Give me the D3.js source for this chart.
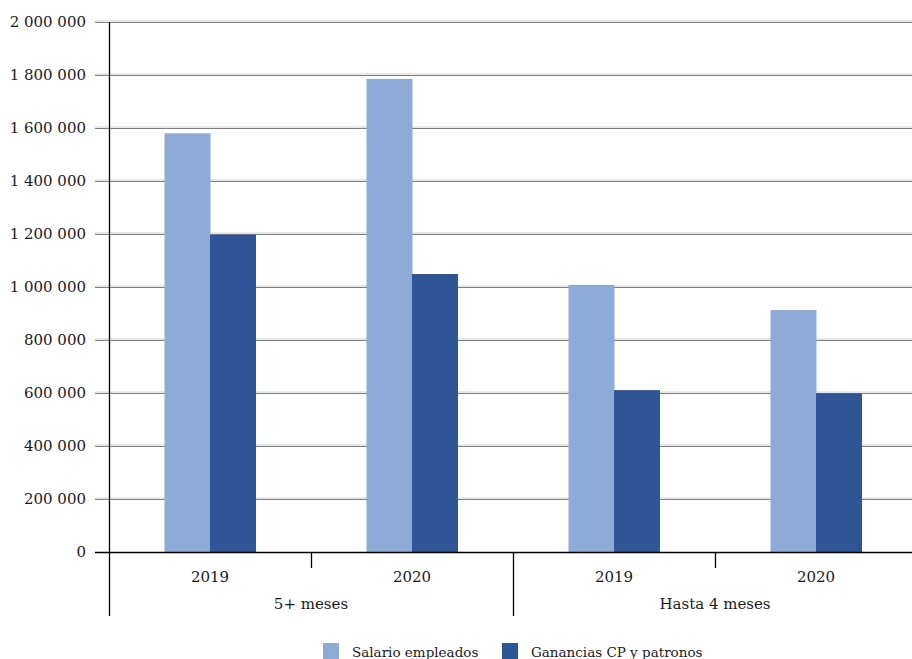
<!DOCTYPE html>
<html><head><meta charset="utf-8">
<script src="https://cdn.jsdelivr.net/npm/d3@7"></script>
<style>body{margin:0;background:#fff}svg{display:block}text{font-family:"DejaVu Serif",serif;fill:#1a1a1a}</style>
</head><body>
<svg id="c" width="912" height="659"></svg>
<script>
const groups = ["5+ meses", "Hasta 4 meses"];
const years = ["2019", "2020"];
const seriesNames = ["Salario empleados", "Ganancias CP y patronos"];
const salario = [1580000, 1785000, 1008000, 913000];
const ganancias = [1197000, 1049000, 611000, 599000];
const yTicks = [0, 200000, 400000, 600000, 800000, 1000000, 1200000, 1400000, 1600000, 1800000, 2000000];
const colors = ["#8eabd8", "#2f5597"];

const svg = d3.select("#c");
const L = 109, R = 917, T = 22, B = 552;
const y = d3.scaleLinear().domain([0, 2000000]).range([B, T]);
const xg = d3.scaleBand().domain(groups).range([L, R]);
const xy = d3.scaleBand().domain(years).range([0, xg.bandwidth()]);
const xs = d3.scaleBand().domain(seriesNames).range([0, xy.bandwidth()]).paddingInner(0).paddingOuter(1.22);
const fmt = v => d3.format(",")(v).replace(/,/g, " ");

// gridlines
const g = svg.append("g");
yTicks.forEach(t => {
  if (t === 0) return;
  g.append("line").attr("x1", 95).attr("x2", 912).attr("y1", y(t) - 1).attr("y2", y(t) - 1).attr("stroke", "#d0d0d0").attr("stroke-width", 1);
  g.append("line").attr("x1", 95).attr("x2", 912).attr("y1", y(t) + 0.5).attr("y2", y(t) + 0.5).attr("stroke", "#7f7f7f").attr("stroke-width", 1);
});
// y labels
svg.append("g").selectAll("text").data(yTicks).join("text")
  .attr("x", 86).attr("y", d => y(d)).attr("dy", "0.35em").attr("text-anchor", "end")
  .style("font-size", "15px").text(fmt);

// bars
const rows = [];
groups.forEach((gr, gi) => years.forEach((yr, yi) => {
  const i = gi * 2 + yi;
  rows.push({gr, yr, s: seriesNames[0], v: salario[i], c: colors[0]});
  rows.push({gr, yr, s: seriesNames[1], v: ganancias[i], c: colors[1]});
}));
svg.append("g").selectAll("rect").data(rows).join("rect")
  .attr("x", d => xg(d.gr) + xy(d.yr) + xs(d.s))
  .attr("width", xs.bandwidth() + 0.5)
  .attr("y", d => y(d.v)).attr("height", d => B - y(d.v))
  .attr("fill", d => d.c);

// axes lines
svg.append("line").attr("x1", 95).attr("x2", 912).attr("y1", B + 0.5).attr("y2", B + 0.5).attr("stroke", "#000").attr("stroke-width", 1.3);
svg.append("line").attr("x1", L + 0.5).attr("x2", L + 0.5).attr("y1", T).attr("y2", 616).attr("stroke", "#000").attr("stroke-width", 1.3);
// group separators and year ticks
groups.forEach((gr, gi) => {
  const gx = xg(gr);
  if (gi > 0) svg.append("line").attr("x1", gx + 0.5).attr("x2", gx + 0.5).attr("y1", B).attr("y2", 616).attr("stroke", "#000").attr("stroke-width", 1.3);
  const mid = gx + xy("2020");
  svg.append("line").attr("x1", mid + 0.5).attr("x2", mid + 0.5).attr("y1", B).attr("y2", 568).attr("stroke", "#000").attr("stroke-width", 1.3);
  years.forEach(yr => {
    svg.append("text").attr("x", gx + xy(yr) + xy.bandwidth() / 2).attr("y", 582)
      .attr("text-anchor", "middle").style("font-size", "15px").text(yr);
  });
  svg.append("text").attr("x", gx + xg.bandwidth() / 2).attr("y", 609)
    .attr("text-anchor", "middle").style("font-size", "15px").text(gr);
});

// legend
const leg = [{x: 323, tx: 352}, {x: 502, tx: 531}];
seriesNames.forEach((s, i) => {
  svg.append("rect").attr("x", leg[i].x).attr("y", 643).attr("width", 16).attr("height", 16).attr("fill", colors[i]);
  svg.append("text").attr("x", leg[i].tx).attr("y", 657).style("font-size", "13.5px").text(s);
});
</script>
</body></html>
